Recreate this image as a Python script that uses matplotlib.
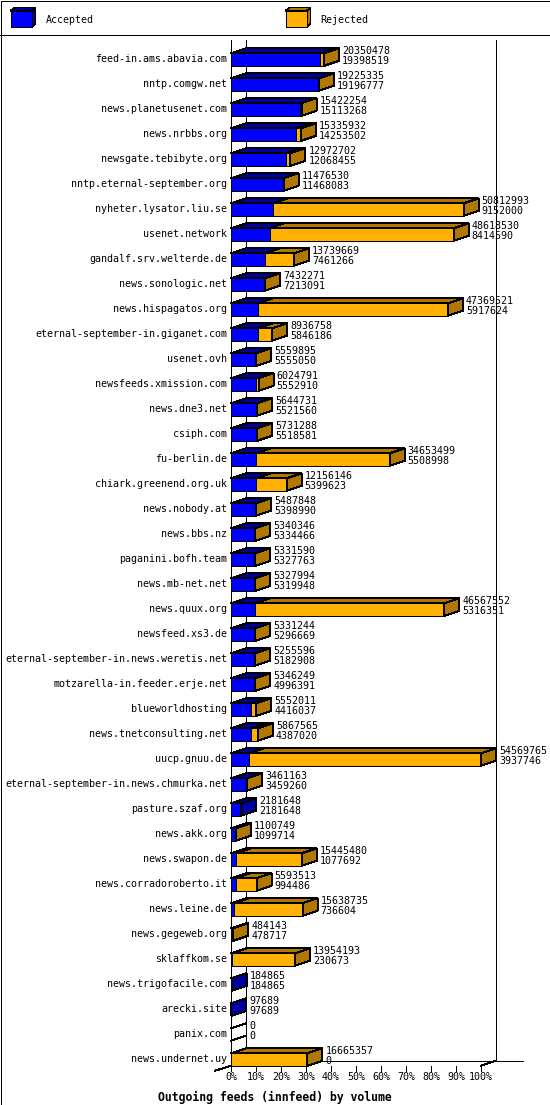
# innreport style chart: outgoing innfeed volume per peer, 3d stacked bars

import matplotlib
matplotlib.use('Agg')
import matplotlib.pyplot as plt
from matplotlib.patches import Polygon, Rectangle
import numpy as np


# data
# ---

hosts = ['feed-in.ams.abavia.com', 'nntp.comgw.net', 'news.planetusenet.com',
         'news.nrbbs.org', 'newsgate.tebibyte.org', 'nntp.eternal-september.org',
         'nyheter.lysator.liu.se', 'usenet.network', 'gandalf.srv.welterde.de',
         'news.sonologic.net', 'news.hispagatos.org', 'eternal-september-in.giganet.com',
         'usenet.ovh', 'newsfeeds.xmission.com', 'news.dne3.net', 'csiph.com',
         'fu-berlin.de', 'chiark.greenend.org.uk', 'news.nobody.at', 'news.bbs.nz',
         'paganini.bofh.team', 'news.mb-net.net', 'news.quux.org', 'newsfeed.xs3.de',
         'eternal-september-in.news.weretis.net', 'motzarella-in.feeder.erje.net',
         'blueworldhosting', 'news.tnetconsulting.net', 'uucp.gnuu.de',
         'eternal-september-in.news.chmurka.net', 'pasture.szaf.org', 'news.akk.org',
         'news.swapon.de', 'news.corradoroberto.it', 'news.leine.de', 'news.gegeweb.org',
         'sklaffkom.se', 'news.trigofacile.com', 'arecki.site', 'panix.com',
         'news.undernet.uy']

offered = [20350478, 19225335, 15422254, 15335932, 12972702, 11476530,
           50812993, 48618530, 13739669, 7432271, 47369521, 8936758,
           5559895, 6024791, 5644731, 5731288, 34653499, 12156146,
           5487848, 5340346, 5331590, 5327994, 46567552, 5331244,
           5255596, 5346249, 5552011, 5867565, 54569765, 3461163,
           2181648, 1100749, 15445480, 5593513, 15638735, 484143,
           13954193, 184865, 97689, 0, 16665357]

accepted = [19398519, 19196777, 15113268, 14253502, 12068455, 11468083,
            9152000, 8414590, 7461266, 7213091, 5917624, 5846186,
            5555050, 5552910, 5521560, 5518581, 5508998, 5399623,
            5398990, 5334466, 5327763, 5319948, 5316351, 5296669,
            5182908, 4996391, 4416037, 4387020, 3937746, 3459260,
            2181648, 1099714, 1077692, 994486, 736604, 478717,
            230673, 184865, 97689, 0, 0]

pct_ticks = [0, 10, 20, 30, 40, 50, 60, 70, 80, 90, 100]
title = 'Outgoing feeds (innfeed) by volume'


# style
# ---

# the original is a crisp GD image: keep the lines hard, text smooth
plt.rcParams['lines.antialiased'] = False
plt.rcParams['patch.antialiased'] = False

blue, blue_dk = '#0000ff', '#0000a0'
orange, orange_dk = '#ffb000', '#b07800'
lw = 0.72
mono = 'DejaVu Sans Mono'
fs = 7.2

# depth of the 3d effect in data units (percent, rows) and half bar height
dx, dy = 6.0, 0.2
h = 0.25


# figure: a pixel overlay for frame/legend/title, and the chart axes
# ---

W, H = 550, 1105
fig = plt.figure(figsize=(W / 100, H / 100), dpi=100)

lay = fig.add_axes([0, 0, 1, 1])
lay.set_xlim(0, W)
lay.set_ylim(H, 0)
lay.axis('off')

ax = fig.add_axes([0, 0, 1, 1])
ax.set_xlim(-92.4, 127.6)
ax.set_ylim(41.82, -2.38)
ax.axis('off')

offered = np.array(offered, dtype=float)
accepted = np.array(accepted, dtype=float)
big = offered.max()
tot = offered / big * 100
acc = accepted / big * 100
rows = np.arange(len(hosts))
n = len(hosts)

# frame and legend
lay.add_patch(Rectangle((0.5, 0.5), W - 1, H - 1, fill=False, lw=lw, ec='black'))
lay.plot([0, W], [34.5, 34.5], color='black', lw=lw)


def cube(x0, name, c, cdk):
    lay.add_patch(Polygon([(x0, 11), (x0 + 4, 7.5), (x0 + 25, 7.5), (x0 + 21, 11)],
                          fc=cdk, ec='black', lw=lw))
    lay.add_patch(Polygon([(x0 + 21, 11), (x0 + 25, 7.5), (x0 + 25, 23.5), (x0 + 21, 27)],
                          fc=cdk, ec='black', lw=lw))
    lay.add_patch(Rectangle((x0, 11), 21, 16, fc=c, ec='black', lw=lw))
    lay.text(x0 + 35, 20, name, family=mono, size=fs, va='center', ha='left')


cube(10.5, 'Accepted', blue, blue_dk)
cube(285.5, 'Rejected', orange, orange_dk)

lay.text(W / 2, 1097, title, family=mono, size=8.3, weight='bold',
         ha='center', va='center')

# walls and floor
top = -0.78
floor = n - 1 + h
ax.plot([0, 0], [top, floor], color='black', lw=lw, zorder=1)
ax.plot([dx, dx], [top, floor - dy], color='black', lw=lw, zorder=1)
ax.plot([100 + dx, 100 + dx], [top, floor - dy], color='black', lw=lw, zorder=1)
ax.plot([dx, 116.8], [floor - dy, floor - dy], color='black', lw=lw, zorder=1)
ax.plot([100, 100 + dx], [floor, floor - dy], color='black', lw=lw, zorder=1)
ax.plot([-6.4, 0], [floor + 0.2, floor], color='black', lw=lw, zorder=1)
for t in pct_ticks:
    ax.plot([t, t], [floor, floor + 0.2], color='black', lw=lw, zorder=1)
    ax.text(t, floor + 0.46, str(t) + '%', family=mono, size=fs,
            ha='center', va='center')

# bars
for i in rows:
    y = rows[i]
    a, t = acc[i], tot[i]
    if t == 0:
        ax.plot([0, dx], [y - h, y - h - dy], color='black', lw=lw, zorder=3)
        ax.plot([0, dx], [y + h, y + h - dy], color='black', lw=lw, zorder=3)
    else:
        segs = [(0, a, blue, blue_dk), (a, t, orange, orange_dk)]
        segs = [s for s in segs if s[1] > s[0]]
        for x0, x1, c, cdk in segs:
            ax.add_patch(Rectangle((x0, y - h), x1 - x0, 2 * h, fc=c, ec='black',
                                   lw=lw, zorder=3))
            ax.add_patch(Polygon([(x0, y - h), (x0 + dx, y - h - dy),
                                  (x1 + dx, y - h - dy), (x1, y - h)],
                                 fc=cdk, ec='black', lw=lw, zorder=3))
        cdk = segs[-1][3]
        ax.add_patch(Polygon([(t, y - h), (t + dx, y - h - dy),
                              (t + dx, y + h - dy), (t, y + h)],
                             fc=cdk, ec='black', lw=lw, zorder=3))

    # labels
    ax.text(-1.6, y + 0.11, hosts[i], family=mono, size=fs, ha='right', va='baseline')
    ax.text(t + dx + 1.2, y - 0.22, str(int(offered[i])), family=mono, size=fs,
            ha='left', va='baseline', zorder=4)
    ax.text(t + dx + 1.2, y + 0.19, str(int(accepted[i])), family=mono, size=fs,
            ha='left', va='baseline', zorder=4)

fig.savefig('out.png', dpi=100)
plt.close()
